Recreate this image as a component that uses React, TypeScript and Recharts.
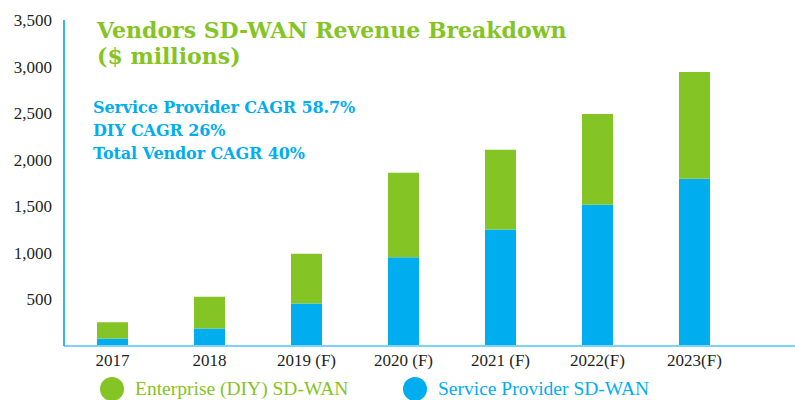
import { BarChart, Bar, XAxis, YAxis } from "recharts";

const categories = ["2017", "2018", "2019 (F)", "2020 (F)", "2021 (F)", "2022(F)", "2023(F)"];
const serviceProvider = [80, 188, 455, 952, 1252, 1517, 1795];
const enterprise = [175, 342, 536, 908, 854, 975, 1147];
const yTicks = [500, 1000, 1500, 2000, 2500, 3000, 3500];

const titleLines = ["Vendors SD-WAN Revenue Breakdown", "($ millions)"];
const cagrLines = ["Service Provider CAGR 58.7%", "DIY CAGR 26%", "Total Vendor CAGR 40%"];

const GREEN = "#84c424";
const BLUE = "#00aeef";

const series = [
  { key: "enterprise", name: "Enterprise (DIY) SD-WAN", color: GREEN },
  { key: "serviceProvider", name: "Service Provider SD-WAN", color: BLUE },
];

const data = categories.map((year, i) => ({
  year,
  serviceProvider: serviceProvider[i],
  enterprise: enterprise[i],
}));

const tickStyle = { fill: "#231f20", fontSize: 17, fontFamily: "Liberation Serif" };

export default function App() {
  return (
    <div style={{ position: "absolute", left: 0, top: 0, width: 795, height: 400, background: "#fff" }}>
      <BarChart
        width={795}
        height={400}
        data={data}
        margin={{ top: 20, right: 0, left: 0, bottom: 24 }}
      >
        <XAxis
          dataKey="year"
          height={30}
          padding={{ left: 0, right: 52 }}
          tickLine={false}
          tickSize={0}
          tickMargin={8}
          axisLine={{ stroke: "#7dd3f5", strokeWidth: 2 }}
          tick={tickStyle}
          interval={0}
        />
        <YAxis
          width={64}
          domain={[0, 3500]}
          ticks={yTicks}
          tickLine={false}
          tickSize={0}
          tickMargin={12}
          axisLine={{ stroke: "#34b8ec", strokeWidth: 2 }}
          tick={tickStyle}
          tickFormatter={(v: number) => v.toLocaleString("en-US")}
        />
        <Bar dataKey="serviceProvider" stackId="a" fill={BLUE} barSize={31} isAnimationActive={false} />
        <Bar dataKey="enterprise" stackId="a" fill={GREEN} barSize={31} isAnimationActive={false} />
      </BarChart>

      <div
        style={{
          position: "absolute",
          left: 97,
          top: 17,
          color: GREEN,
          fontFamily: "DejaVu Serif",
          fontWeight: 700,
          fontSize: 22,
          lineHeight: "26px",
        }}
      >
        {titleLines.map((t) => (
          <div key={t}>{t}</div>
        ))}
      </div>

      <div
        style={{
          position: "absolute",
          left: 93,
          top: 96,
          color: BLUE,
          fontFamily: "DejaVu Serif",
          fontWeight: 700,
          fontSize: 16,
          lineHeight: "23px",
          letterSpacing: -0.1,
        }}
      >
        {cagrLines.map((t) => (
          <div key={t}>{t}</div>
        ))}
      </div>

      {series.map((s, i) => (
        <div
          key={s.key}
          style={{
            position: "absolute",
            left: i === 0 ? 100 : 403,
            top: 377,
            display: "flex",
            alignItems: "center",
            whiteSpace: "nowrap",
          }}
        >
          <span
            style={{
              display: "inline-block",
              width: 24,
              height: 24,
              borderRadius: 12,
              background: s.color,
              marginRight: 11,
            }}
          />
          <span style={{ color: s.color, fontFamily: "Liberation Serif", fontSize: 19.5 }}>{s.name}</span>
        </div>
      ))}
    </div>
  );
}
